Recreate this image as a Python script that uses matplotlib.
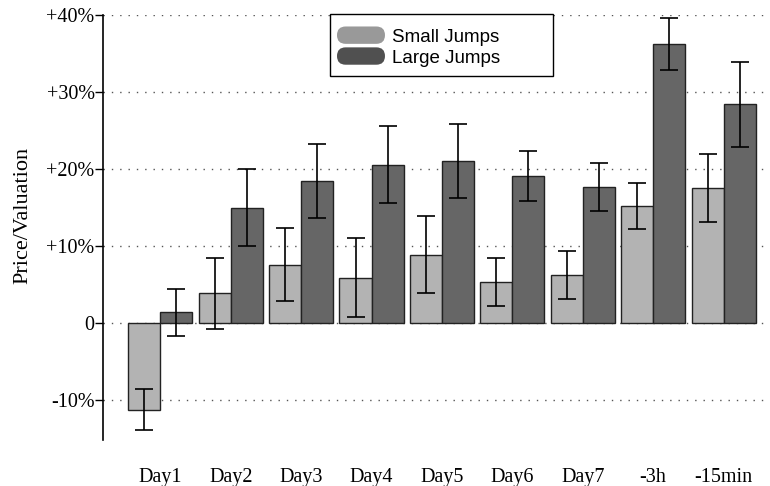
import matplotlib.pyplot as plt
import numpy as np
from matplotlib.patches import Patch, FancyBboxPatch, Rectangle
from matplotlib.legend_handler import HandlerPatch

# data (percent)
labels = ['Day1', 'Day2', 'Day3', 'Day4', 'Day5', 'Day6', 'Day7', '-3h', '-15min']
small = [-11.2, 3.9, 7.6, 5.9, 8.9, 5.4, 6.3, 15.2, 17.5]
small_err = [2.7, 4.6, 4.7, 5.1, 5.0, 3.1, 3.1, 3.0, 4.4]
large = [1.4, 15.0, 18.5, 20.6, 21.1, 19.1, 17.7, 36.2, 28.4]
large_err = [3.0, 5.0, 4.8, 5.0, 4.8, 3.3, 3.1, 3.4, 5.5]
yticks = [-10, 0, 10, 20, 30, 40]
ytick_labels = ['-10%', '0', '+10%', '+20%', '+30%', '+40%']

serif = 'Liberation Serif'
sans = 'Liberation Sans'


class PillHandler(HandlerPatch):
    # rounded legend key
    def create_artists(self, legend, orig_handle, xdescent, ydescent, width, height,
                       fontsize, trans):
        h = 12.5
        y0 = -ydescent + height / 2 - h / 2
        p = FancyBboxPatch((-xdescent, y0), width, h,
                           boxstyle='round,pad=0,rounding_size=%f' % (h / 2),
                           facecolor=orig_handle.get_facecolor(), edgecolor='none',
                           transform=trans)
        return [p]


fig = plt.figure(figsize=(7.7, 4.86), dpi=100)
ax = fig.add_axes([103 / 770, 1 - 440 / 486, 1 - 103 / 770, 425 / 486])

x = np.arange(len(labels))
w = 0.455
ekw = dict(ecolor='black', elinewidth=1.2, capsize=6.75, capthick=1.2)
ax.bar(x - w / 2, small, w, color='#b3b3b3', edgecolor='#222222', linewidth=1.0,
       yerr=small_err, error_kw=ekw, zorder=3)
ax.bar(x + w / 2, large, w, color='#666666', edgecolor='#222222', linewidth=1.0,
       yerr=large_err, error_kw=ekw, zorder=3)

# dotted grid
for yv in yticks:
    ax.axhline(yv, color='#555555', linewidth=1, linestyle=(0, (1, 5)), zorder=1)

ax.set_xlim(-0.814, 8.66)
ax.set_ylim(-15.15, 40)
ax.set_yticks(yticks)
ax.set_yticklabels(ytick_labels, fontfamily=serif, fontsize=14.5)
ax.set_xticks(x)
ax.set_xticklabels(labels, fontfamily=serif, fontsize=14.5)
ax.tick_params(axis='x', length=0, pad=20)
ax.tick_params(axis='y', length=6, width=1, pad=0)

for s in ['top', 'right', 'bottom']:
    ax.spines[s].set_visible(False)
ax.spines['left'].set_linewidth(1.2)

fig.text(23 / 770, 1 - 215 / 486, 'Price/Valuation', rotation=90, ha='center', va='center',
         fontfamily=serif, fontsize=16)

# legend box drawn separately so it can be sized like the original
ax.add_patch(Rectangle((0.3403, 0.8565), 0.3343, 0.1459, transform=ax.transAxes,
                       facecolor='white', edgecolor='black', linewidth=1.0, zorder=5,
                       clip_on=False))
handles = [Patch(facecolor='#999999'), Patch(facecolor='#505050')]
leg = ax.legend(handles, ['Small Jumps', 'Large Jumps'], loc='upper left',
                bbox_to_anchor=(0.3508, 0.968), borderaxespad=0, frameon=False,
                handlelength=2.56, labelspacing=0.2, borderpad=0, handletextpad=0.37,
                prop={'family': sans, 'size': 13.5},
                handler_map={Patch: PillHandler()})
leg.set_zorder(6)

fig.savefig('out.png', dpi=100)
